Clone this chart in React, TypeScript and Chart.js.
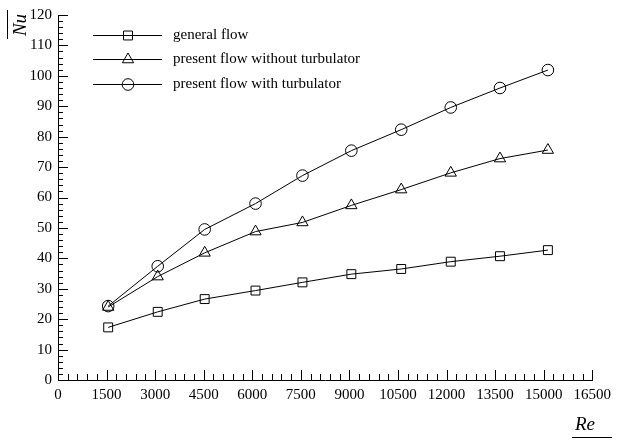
import React, { useEffect, useRef } from 'react';
import { Chart, registerables } from 'chart.js';

Chart.register(...registerables);

const reValues = [1550, 3080, 4530, 6100, 7550, 9060, 10600, 12130, 13650, 15130];
const nuGeneral = [17.3, 22.4, 26.6, 29.4, 32.1, 34.8, 36.5, 38.9, 40.7, 42.7];
const nuWithout = [24.0, 34.0, 41.8, 48.8, 51.8, 57.4, 62.6, 68.1, 72.8, 75.6];
const nuWith = [24.3, 37.4, 49.5, 58.0, 67.2, 75.4, 82.3, 89.6, 96.0, 101.9];
const seriesLabels = ['general flow', 'present flow without turbulator', 'present flow with turbulator'];
const seriesStyles = ['rect', 'triangle', 'circle'];
const xTickLabels = [0, 1500, 3000, 4500, 6000, 7500, 9000, 10500, 12000, 13500, 15000, 16500];
const yTickLabels = [0, 10, 20, 30, 40, 50, 60, 70, 80, 90, 100, 110, 120];
const xTitle = 'Re';
const yTitle = 'Nu';

const FONT = "'Liberation Serif', 'Times New Roman', serif";

function drawMarker(ctx: CanvasRenderingContext2D, style: string, x: number, y: number, r: number) {
  ctx.beginPath();
  if (style === 'rect') {
    const h = r * Math.SQRT1_2;
    ctx.rect(x - h, y - h, 2 * h, 2 * h);
  } else if (style === 'triangle') {
    for (let k = 0; k < 3; k++) {
      const a = (k * 2 * Math.PI) / 3;
      const px = x + Math.sin(a) * r;
      const py = y - Math.cos(a) * r;
      if (k === 0) ctx.moveTo(px, py);
      else ctx.lineTo(px, py);
    }
    ctx.closePath();
  } else {
    ctx.arc(x, y, r, 0, Math.PI * 2);
  }
  ctx.stroke();
}

const decorPlugin = {
  id: 'decor',
  afterDraw(chart: any) {
    const ctx: CanvasRenderingContext2D = chart.ctx;
    const xs = chart.scales.x;
    const ys = chart.scales.y;
    const area = chart.chartArea;
    ctx.save();
    ctx.strokeStyle = '#000';
    ctx.fillStyle = '#000';
    ctx.lineWidth = 1;
    // inside ticks on x axis
    const bottom = Math.round(area.bottom);
    for (let v = 0; v <= 16500; v += 300) {
      const px = Math.round(xs.getPixelForValue(v)) + 0.5;
      const major = v % 1500 === 0;
      ctx.beginPath();
      ctx.moveTo(px, bottom);
      ctx.lineTo(px, bottom - (major ? 10 : 6));
      ctx.stroke();
    }
    const left = Math.round(area.left);
    for (let v = 0; v <= 120; v += 2) {
      const py = Math.round(ys.getPixelForValue(v)) + 0.5;
      const major = v % 10 === 0;
      ctx.beginPath();
      ctx.moveTo(left, py);
      ctx.lineTo(left + (major ? 10 : 5), py);
      ctx.stroke();
    }
    // legend
    chart.data.datasets.forEach((ds: any, i: number) => {
      const y = Math.round(34.5 + i * 24.5) + 0.5;
      ctx.beginPath();
      ctx.moveTo(93, y);
      ctx.lineTo(162, y);
      ctx.stroke();
      drawMarker(ctx, ds.pointStyle, 128, y, ds.pointRadius);
      ctx.font = `15px ${FONT}`;
      ctx.textAlign = 'left';
      ctx.textBaseline = 'middle';
      ctx.fillText(ds.label, 173, y);
    });
    // y title
    ctx.save();
    ctx.translate(21, 25);
    ctx.rotate(-Math.PI / 2);
    ctx.font = `italic 19px ${FONT}`;
    ctx.textAlign = 'center';
    ctx.textBaseline = 'middle';
    ctx.fillText(yTitle, 0, 0);
    ctx.restore();
    ctx.beginPath();
    ctx.moveTo(7.5, 10);
    ctx.lineTo(7.5, 39);
    ctx.stroke();
    // x title
    ctx.font = `italic 19px ${FONT}`;
    ctx.textAlign = 'center';
    ctx.textBaseline = 'middle';
    ctx.fillText(xTitle, 585, 425);
    ctx.beginPath();
    ctx.moveTo(572, 437.5);
    ctx.lineTo(612, 437.5);
    ctx.stroke();
    ctx.restore();
  },
};

export default function App() {
  const ref = useRef<HTMLCanvasElement>(null);
  useEffect(() => {
    document.body.style.margin = '0';
    const canvas = ref.current!;
    const mk = (label: string, vals: number[], style: string, r: number) => ({
      label,
      data: reValues.map((x, i) => ({ x, y: vals[i] })),
      borderColor: '#000',
      borderWidth: 1,
      backgroundColor: 'rgba(0,0,0,0)',
      pointStyle: style,
      pointRadius: r,
      pointBorderWidth: 1,
      pointBackgroundColor: 'rgba(0,0,0,0)',
      pointBorderColor: '#000',
      showLine: true,
      tension: 0,
    });
    const chart = new Chart(canvas, {
      type: 'scatter',
      data: {
        datasets: [
          mk(seriesLabels[0], nuGeneral, seriesStyles[0], 6.3),
          mk(seriesLabels[1], nuWithout, seriesStyles[1], 6.5),
          mk(seriesLabels[2], nuWith, seriesStyles[2], 5.8),
        ],
      },
      options: {
        responsive: false,
        animation: false,
        layout: { padding: { top: 14, right: 23, left: 0, bottom: 0 } },
        plugins: { legend: { display: false }, tooltip: { enabled: false } },
        scales: {
          x: {
            type: 'linear',
            min: xTickLabels[0],
            max: xTickLabels[xTickLabels.length - 1],
            afterBuildTicks: (s: any) => {
              s.ticks = xTickLabels.map((v) => ({ value: v }));
            },
            afterFit: (s: any) => {
              s.height = 63;
            },
            grid: { display: false, drawTicks: false },
            border: { display: true, color: '#000', width: 1 },
            ticks: {
              color: '#000',
              padding: 6,
              maxRotation: 0,
              autoSkip: false,
              font: { family: FONT, size: 15 },
              callback: (v: any) => String(v),
            },
          },
          y: {
            type: 'linear',
            min: yTickLabels[0],
            max: yTickLabels[yTickLabels.length - 1],
            afterBuildTicks: (s: any) => {
              s.ticks = yTickLabels.map((v) => ({ value: v }));
            },
            afterFit: (s: any) => {
              s.width = 58;
            },
            grid: { display: false, drawTicks: false },
            border: { display: true, color: '#000', width: 1 },
            ticks: {
              color: '#000',
              padding: 6,
              autoSkip: false,
              font: { family: FONT, size: 15 },
              callback: (v: any) => String(v),
            },
          },
        },
      },
      plugins: [decorPlugin],
    } as any);
    return () => chart.destroy();
  }, []);
  return (
    <div style={{ width: 617, height: 443, background: '#fff' }}>
      <canvas ref={ref} width={617} height={443} />
    </div>
  );
}
